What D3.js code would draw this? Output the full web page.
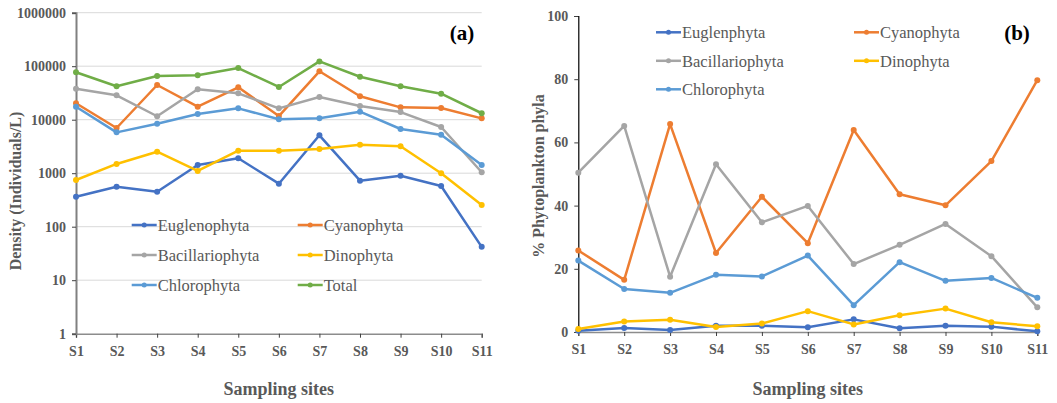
<!DOCTYPE html>
<html><head><meta charset="utf-8">
<script src="https://cdn.jsdelivr.net/npm/d3@7"></script>
<style>body{margin:0;background:#fff}svg{display:block}text{font-family:"Liberation Serif","Times New Roman",serif}</style>
</head><body><svg id="c" width="1057" height="403"></svg>
<script>
const sites = ["S1","S2","S3","S4","S5","S6","S7","S8","S9","S10","S11"];
// Panel (a): density (individuals/L)
const densEuglenophyta = [364,560,451,1420,1900,637,5110,724,898,577,42];
const densCyanophyta = [20300,7000,44500,17500,40300,11700,80300,27400,17000,16500,10600];
const densBacillariophyta = [38000,28600,11600,37000,31100,16300,26600,18000,13900,7300,1040];
const densDinophyta = [746,1490,2520,1100,2640,2640,2830,3410,3190,995,255];
const densChlorophyta = [17500,5800,8400,12800,16300,10200,10600,14100,6700,5250,1420];
const densTotal = [76900,42100,65600,67600,92500,40900,123000,63400,42100,30600,13200];
const densTicks = [1,10,100,1000,10000,100000,1000000];
// Panel (b): % phytoplankton phyla
const pctEuglenphyta = [0.4,1.3,0.6,2.0,2.0,1.5,4.0,1.2,2.0,1.7,0.2];
const pctCyanophyta = [25.8,16.5,65.8,25.0,42.8,28.1,63.9,43.6,40.1,54.1,79.7];
const pctBacillariophyta = [50.4,65.2,17.5,53.1,34.7,39.9,21.5,27.6,34.2,24.0,7.8];
const pctDinophyta = [0.95,3.3,3.9,1.6,2.7,6.6,2.4,5.3,7.4,3.1,1.8];
const pctChlorophyta = [22.6,13.6,12.4,18.1,17.6,24.2,8.5,22.1,16.2,17.1,10.8];
const pctTicks = [0,20,40,60,80,100];

const C = {eu:"#4472C4", cy:"#ED7D31", ba:"#A5A5A5", di:"#FFC000", ch:"#5B9BD5", to:"#70AD47"};
const TXT = "#595959";
const SERIF = "Liberation Serif";
const svg = d3.select("#c");

function drawPanel(o){
  const g = svg.append("g");
  const x = d3.scalePoint().domain(sites).range([o.x0,o.x1]);
  const y = o.log ? d3.scaleLog().domain([1,1e6]).range([o.y0,o.y1])
                  : d3.scaleLinear().domain([0,100]).range([o.y0,o.y1]);
  if(o.grid){
    g.selectAll(".gl").data(o.ticks.filter(t=>t!==o.ticks[0])).join("line")
      .attr("x1",o.x0).attr("x2",o.x1).attr("y1",d=>y(d)).attr("y2",d=>y(d))
      .attr("stroke","#d9d9d9").attr("stroke-width",1);
  }
  // x axis
  const xa = g.append("g").attr("transform",`translate(0,${o.y0})`)
    .call(d3.axisBottom(x).tickSize(4).tickPadding(8));
  xa.attr("font-family",SERIF);
  xa.select(".domain").attr("stroke","#8c8c8c").attr("stroke-width",1.5);
  xa.selectAll(".tick line").attr("stroke","#404040");
  xa.selectAll("text").attr("fill",TXT).attr("font-size",14).attr("font-weight","bold");
  // y axis
  const ya = g.append("g").attr("transform",`translate(${o.x0},0)`)
    .call(d3.axisLeft(y).tickValues(o.ticks).tickFormat(d3.format("d")).tickSize(4).tickPadding(6));
  ya.attr("font-family",SERIF);
  ya.select(".domain").attr("stroke",o.yAxisColor).attr("stroke-width",o.yAxisW);
  ya.selectAll(".tick line").attr("stroke","#404040");
  ya.selectAll("text").attr("fill",TXT).attr("font-size",14).attr("font-weight","bold");
  // series
  const line = d3.line().x((d,i)=>x(sites[i])).y(d=>y(d));
  o.series.forEach(s=>{
    g.append("path").datum(s.v).attr("d",line).attr("fill","none")
      .attr("stroke",s.c).attr("stroke-width",2.5).attr("stroke-linejoin","round");
    g.selectAll(null).data(s.v).join("circle")
      .attr("cx",(d,i)=>x(sites[i])).attr("cy",d=>y(d)).attr("r",3).attr("fill",s.c);
  });
  // legend
  o.legend.forEach((s,i)=>{
    const col = i%2, row = Math.floor(i/2);
    const lx = o.legX[col], ly = o.legY + row*o.legDY;
    g.append("line").attr("x1",lx).attr("x2",lx+25).attr("y1",ly).attr("y2",ly)
      .attr("stroke",s.c).attr("stroke-width",2.5);
    g.append("circle").attr("cx",lx+12.5).attr("cy",ly).attr("r",2.5).attr("fill",s.c);
    g.append("text").attr("x",lx+26).attr("y",ly).attr("dy","0.35em")
      .attr("fill",TXT).attr("font-size",o.legFS).text(s.n);
  });
  // titles
  g.append("text").attr("x",(o.x0+o.x1)/2).attr("y",395).attr("text-anchor","middle")
    .attr("fill",TXT).attr("font-size",18).attr("font-weight","bold").text("Sampling sites");
  g.append("text").attr("transform",`translate(${o.ytX},${o.ytY}) rotate(-90)`)
    .attr("text-anchor","middle").attr("dy","0.35em")
    .attr("fill",TXT).attr("font-size",16).attr("font-weight","bold").text(o.ytitle);
  g.append("text").attr("x",o.lblX).attr("y",33).attr("dy","0.35em").attr("text-anchor","middle")
    .attr("fill","#000").attr("font-size",21).attr("font-weight","bold").text(o.label);
}

drawPanel({x0:76,x1:481.7,y0:333.7,y1:12.7,log:true,grid:true,ticks:densTicks,
  yAxisColor:"#808080",yAxisW:2,
  series:[{v:densEuglenophyta,c:C.eu},{v:densCyanophyta,c:C.cy},{v:densBacillariophyta,c:C.ba},
          {v:densDinophyta,c:C.di},{v:densChlorophyta,c:C.ch},{v:densTotal,c:C.to}],
  legend:[{n:"Euglenophyta",c:C.eu},{n:"Cyanophyta",c:C.cy},{n:"Bacillariophyta",c:C.ba},
          {n:"Dinophyta",c:C.di},{n:"Chlorophyta",c:C.ch},{n:"Total",c:C.to}],
  legX:[131.7,297.7],legY:225,legDY:30,legFS:16.5,
  ytitle:"Density (Individuals/L)",ytX:15,ytY:191,label:"(a)",lblX:462});

drawPanel({x0:578.3,x1:1037.3,y0:332,y1:16,log:false,grid:false,ticks:pctTicks,
  yAxisColor:"#000",yAxisW:1.2,
  series:[{v:pctEuglenphyta,c:C.eu},{v:pctCyanophyta,c:C.cy},{v:pctBacillariophyta,c:C.ba},
          {v:pctDinophyta,c:C.di},{v:pctChlorophyta,c:C.ch}],
  legend:[{n:"Euglenphyta",c:C.eu},{n:"Cyanophyta",c:C.cy},{n:"Bacillariophyta",c:C.ba},
          {n:"Dinophyta",c:C.di},{n:"Chlorophyta",c:C.ch}],
  legX:[656,854],legY:32.3,legDY:28.5,legFS:16.5,
  ytitle:"% Phytoplankton phyla",ytX:538,ytY:176,label:"(b)",lblX:1017});
</script></body></html>
